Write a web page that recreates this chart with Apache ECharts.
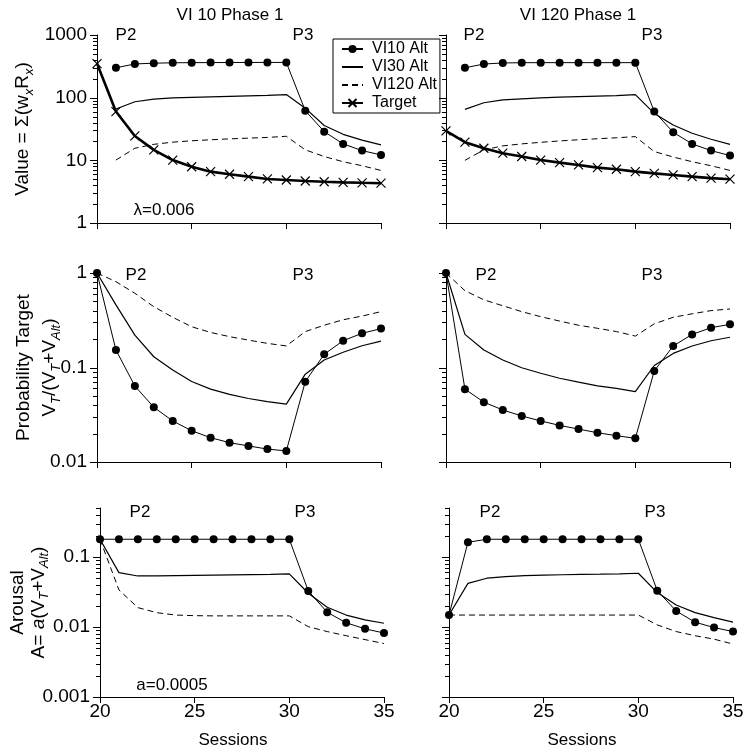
<!DOCTYPE html>
<html>
<head>
<meta charset="utf-8">
<script src="https://cdn.jsdelivr.net/npm/echarts@6/dist/echarts.min.js"></script>
<style>
html,body{margin:0;padding:0;background:#fff;}
#c{width:751px;height:755px;}
</style>
</head>
<body>
<div id="c"></div>
<script>
// ---------- data ----------
const sessions = [20,21,22,23,24,25,26,27,28,29,30,31,32,33,34,35];
const seriesNames = ['VI10 Alt','VI30 Alt','VI120 Alt','Target'];
const panelTitles = ['VI 10 Phase 1','VI 120 Phase 1'];

// Value panels (VI 10 Phase 1 / VI 120 Phase 1)
const tlVI10  = [null,300,345,355,360,362,363,364,365,365,365,62,28.7,18.3,14.3,12.2];
const tlVI30  = [null,66,86,95,99,101,103,105,107,109,112,68,36,26,21,17.6];
const tlVI120 = [null,10.1,15.6,18,19.5,20.5,21.3,22,22.6,23.2,24.2,14.7,11.5,9.5,8.2,6.9];
const tlTarget= [350,60,24.5,14.7,10.1,7.9,6.6,6.0,5.5,5.05,4.86,4.68,4.55,4.45,4.38,4.32];

const trVI10  = [null,300,344,358,361,362,362,362,362,362,362,60,28,18.3,14.3,11.9];
const trVI30  = [null,65,83,92,96,99,102,104,106,108,112,56,36.7,27,21.7,18];
const trVI120 = [null,10,14.7,17,18.3,19.4,20.4,21.3,22.1,22.9,23.9,13.8,11.3,9.5,8.2,6.9];
const trTarget= [29.5,19.5,15.6,13,11.5,10.1,9.2,8.45,7.66,7.2,6.6,6.2,5.85,5.5,5.2,5.0];

// Probability panels
const mlVI10  = [1,0.153,0.0637,0.038,0.0272,0.0214,0.0181,0.016,0.0148,0.0137,0.0131,0.0708,0.138,0.192,0.23,0.258];
const mlVI30  = [1,0.46,0.22,0.13,0.094,0.071,0.059,0.052,0.047,0.0435,0.041,0.085,0.12,0.145,0.17,0.19];
const mlVI120 = [1,0.81,0.61,0.44,0.34,0.27,0.235,0.212,0.195,0.18,0.169,0.24,0.28,0.32,0.35,0.39];

const mrVI10  = [1,0.059,0.043,0.0355,0.0307,0.0272,0.0244,0.0223,0.0204,0.019,0.0178,0.092,0.169,0.224,0.264,0.286];
const mrVI30  = [1,0.224,0.153,0.12,0.0995,0.087,0.077,0.07,0.064,0.06,0.0555,0.105,0.141,0.169,0.192,0.209];
const mrVI120 = [1,0.65,0.52,0.45,0.39,0.345,0.31,0.28,0.26,0.24,0.215,0.29,0.34,0.37,0.40,0.416];

// Arousal panels
const blVI10  = [0.179,0.179,0.179,0.179,0.179,0.179,0.179,0.179,0.179,0.179,0.179,0.0327,0.0162,0.0115,0.0094,0.0082];
const blVI30  = [0.179,0.0597,0.0535,0.0535,0.054,0.0545,0.055,0.0555,0.056,0.0565,0.0572,0.0303,0.0191,0.0148,0.0126,0.0113];
const blVI120 = [0.179,0.0338,0.0189,0.016,0.0148,0.0145,0.0144,0.0144,0.0144,0.0144,0.0144,0.0101,0.0086,0.0075,0.0066,0.0058];

const brVI10  = [0.0148,0.162,0.179,0.179,0.179,0.179,0.179,0.179,0.179,0.179,0.179,0.033,0.0169,0.0117,0.0098,0.0086];
const brVI30  = [0.0148,0.042,0.0497,0.0524,0.054,0.055,0.0557,0.0563,0.0568,0.0575,0.0585,0.031,0.0206,0.016,0.0136,0.0117];
const brVI120 = [0.0148,0.0148,0.0148,0.0148,0.0148,0.0148,0.0148,0.0148,0.0148,0.0148,0.0148,0.0107,0.0086,0.0075,0.0067,0.0057];

// axis ranges and tick labels
const yValueRange = [1, 1000];
const yProbRange = [0.01, 1];
const yArousalRange = [0.001, 0.5];
const yValueLabels = ['1','10','100','1000'];     // exponents 0..3
const yProbLabels = ['0.01','0.1','1'];           // exponents -2..0
const yArousalLabels = ['0.001','0.01','0.1'];    // exponents -3..-1
const xTickLabels = ['20','25','30','35'];

// ---------- chart ----------
const FONT = 'Liberation Sans, Arial, sans-serif';
const BLACK = '#000';
const CLEAR = 'rgba(0,0,0,0)';

const grids = [
  {left:97, top:35, width:284, height:188},
  {left:446, top:35, width:284, height:188},
  {left:97, top:273, width:284, height:189},
  {left:446, top:273, width:284, height:189},
  {left:100, top:508, width:284, height:189},
  {left:449, top:508, width:284, height:189}
];

function pair(vals) { return sessions.map((s,i)=> [s, vals[i]]); }

function labelFormatter(labels, minExp) {
  return function(v) {
    const e = Math.log10(v);
    const r = Math.round(e);
    if (Math.abs(e - r) > 1e-6) return '';
    const t = labels[r - minExp];
    return t === undefined ? '' : t;
  };
}

const xAxes = grids.map((g,i)=>({
  type:'value', gridIndex:i, min:20, max:35, interval:5,
  axisLine:{show:true, lineStyle:{color:BLACK, width:1}},
  axisTick:{show:true, length:6, inside:false, lineStyle:{color:BLACK}},
  splitLine:{show:false},
  axisLabel:{show: i>=4, fontSize:19, fontFamily:FONT, color:BLACK, margin:5,
    formatter: v => xTickLabels[Math.round((v-20)/5)] || ''},
  name: i>=4 ? 'Sessions' : '',
  nameLocation:'middle', nameGap:35, nameMoveOverlap:false,
  nameTextStyle:{fontSize:17, fontFamily:FONT, color:BLACK, padding:[0,18,0,0]}
}));

function richSet(lh) {
  return {
    n:{fontSize:19, fontFamily:FONT, color:BLACK, lineHeight:lh},
    i:{fontSize:19, fontFamily:FONT, color:BLACK, lineHeight:lh, fontStyle:'italic'},
    s:{fontSize:13, fontFamily:FONT, color:BLACK, lineHeight:lh-12, fontStyle:'italic', padding:[12,0,0,0]}
  };
}

const yDefs = [
  {range:yValueRange, labels:yValueLabels, minExp:0, show:true,
   name:'{n|Value = Σ(w}{s|x}{n|R}{s|x}{n|)}', gap:61, lh:26},
  {range:yValueRange, labels:yValueLabels, minExp:0, show:false, name:'', gap:0, lh:26},
  {range:yProbRange, labels:yProbLabels, minExp:-2, show:true,
   name:'{n|Probability Target}\n{n|V}{s|T}{n|/(V}{s|T}{n|+V}{s|Alt}{n|)}', gap:34, lh:26},
  {range:yProbRange, labels:yProbLabels, minExp:-2, show:false, name:'', gap:0, lh:26},
  {range:yArousalRange, labels:yArousalLabels, minExp:-3, show:true,
   name:'{n|Arousal}\n{n|A= }{i|a}{n|(V}{s|T}{n|+V}{s|Alt}{n|)}', gap:51, lh:21},
  {range:yArousalRange, labels:yArousalLabels, minExp:-3, show:false, name:'', gap:0, lh:21}
];

const yAxes = yDefs.map((d,i)=>({
  type:'log', logBase:10, gridIndex:i, min:d.range[0], max:d.range[1],
  axisLine:{show:true, lineStyle:{color:BLACK, width:1}},
  axisTick:{show:false},
  splitLine:{show:false},
  minorTick:{show:false},
  axisLabel:{show:d.show, fontSize:19, fontFamily:FONT, color:BLACK, margin:10,
    formatter: labelFormatter(d.labels, d.minExp)},
  name:d.name, nameLocation:'middle', nameRotate:90, nameGap:d.gap, nameMoveOverlap:false,
  nameTextStyle:{rich:richSet(d.lh)}
}));

const xPath = 'path://M0,0L10,10M0,10L10,0';

function circleSeries(vals, idx) {
  return {type:'line', name:seriesNames[0], xAxisIndex:idx, yAxisIndex:idx, data:pair(vals),
    symbol:'circle', symbolSize:8, showSymbol:true,
    lineStyle:{color:BLACK, width:1}, itemStyle:{color:BLACK}, z:5};
}
function solidSeries(vals, idx) {
  return {type:'line', name:seriesNames[1], xAxisIndex:idx, yAxisIndex:idx, data:pair(vals),
    symbol:'none', lineStyle:{color:BLACK, width:1.2},
    itemStyle:{color:CLEAR, borderColor:CLEAR, borderWidth:0}, z:3};
}
function dashSeries(vals, idx) {
  return {type:'line', name:seriesNames[2], xAxisIndex:idx, yAxisIndex:idx, data:pair(vals),
    symbol:'none', lineStyle:{color:BLACK, width:1, type:[6,4]},
    itemStyle:{color:CLEAR, borderColor:CLEAR, borderWidth:0}, z:3};
}
function targetSeries(vals, idx) {
  return {type:'line', name:seriesNames[3], xAxisIndex:idx, yAxisIndex:idx, data:pair(vals),
    symbol:xPath, symbolSize:9, showSymbol:true,
    lineStyle:{color:BLACK, width:2.6},
    itemStyle:{color:BLACK, borderColor:BLACK, borderWidth:1.2}, z:4};
}

const series = [
  circleSeries(tlVI10,0), solidSeries(tlVI30,0), dashSeries(tlVI120,0), targetSeries(tlTarget,0),
  circleSeries(trVI10,1), solidSeries(trVI30,1), dashSeries(trVI120,1), targetSeries(trTarget,1),
  circleSeries(mlVI10,2), solidSeries(mlVI30,2), dashSeries(mlVI120,2),
  circleSeries(mrVI10,3), solidSeries(mrVI30,3), dashSeries(mrVI120,3),
  circleSeries(blVI10,4), solidSeries(blVI30,4), dashSeries(blVI120,4),
  circleSeries(brVI10,5), solidSeries(brVI30,5), dashSeries(brVI120,5)
];

const option = {
  animation:false,
  backgroundColor:'#fff',
  textStyle:{fontFamily:FONT},
  grid: grids,
  xAxis: xAxes,
  yAxis: yAxes,
  legend:{
    data:seriesNames, orient:'vertical', left:333, top:39,
    borderColor:BLACK, borderWidth:1, backgroundColor:'#fff',
    padding:[2,3,2,8], itemGap:2, itemWidth:21, itemHeight:10,
    textStyle:{fontSize:16, fontFamily:FONT, color:BLACK, padding:[0,0,0,4]},
    z:10
  },
  series: series
};

const chart = echarts.init(document.getElementById('c'), null, {renderer:'canvas'});
chart.setOption(option);

// ---------- annotations & log ticks ----------
const els = [];
function txt(x, y, text, size) {
  els.push({type:'text', x:x, y:y, silent:true, z:20,
    style:{text:text, fontSize:size, fontFamily:FONT, fill:BLACK, align:'center', verticalAlign:'middle'}});
}
txt(230, 15, panelTitles[0], 17);
txt(578, 15, panelTitles[1], 17);
// phase labels
txt(126, 35, 'P2', 17);  txt(303, 35, 'P3', 17);
txt(474, 35, 'P2', 17);  txt(652, 35, 'P3', 17);
txt(136, 275, 'P2', 17); txt(303, 275, 'P3', 17);
txt(486, 275, 'P2', 17); txt(652, 275, 'P3', 17);
txt(140, 512, 'P2', 17); txt(305, 512, 'P3', 17);
txt(490, 512, 'P2', 17); txt(655, 512, 'P3', 17);
txt(164, 210, 'λ=0.006', 17);
txt(172, 685, 'a=0.0005', 17);

yDefs.forEach((d,i)=>{
  const e0 = Math.floor(Math.log10(d.range[0]) + 1e-9);
  const e1 = Math.ceil(Math.log10(d.range[1]) - 1e-9);
  for (let e=e0; e<=e1; e++) {
    for (let m=1; m<=9; m++) {
      const v = m * Math.pow(10, e);
      if (v < d.range[0]*0.999 || v > d.range[1]*1.001) continue;
      const p = chart.convertToPixel({xAxisIndex:i, yAxisIndex:i}, [20, v]);
      const len = (m===1) ? 7 : 4;
      const y = Math.round(p[1]) + 0.5;
      const x = Math.round(p[0]);
      els.push({type:'line', silent:true, z:20,
        shape:{x1:x-len, y1:y, x2:x, y2:y}, style:{stroke:BLACK, lineWidth:1}});
    }
  }
});
chart.setOption({graphic: els});
</script>
</body>
</html>
